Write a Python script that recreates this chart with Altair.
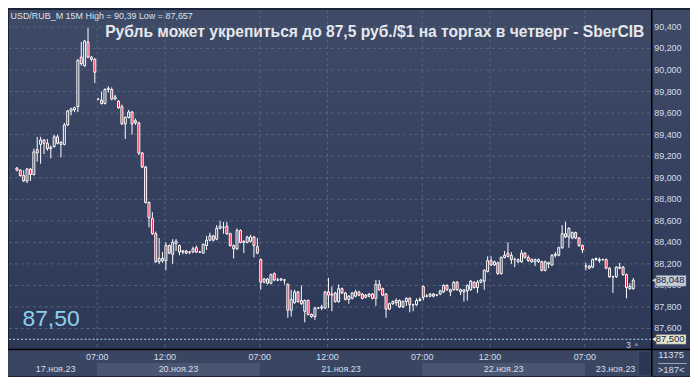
import altair as alt
import pandas as pd

# ---- 15-minute candles (trading sessions only) ----
# Nov 17 (24), Nov 20 (48), Nov 21 (48), Nov 22 (48), Nov 23 (15)
opens = [
    89.09, 89.07, 89.02, 88.97, 89.08, 89.03, 89.26, 89.31, 89.35, 89.32, 89.27, 89.29,
    89.38, 89.31, 89.31, 89.49, 89.62, 89.63, 89.66, 90.12, 90.04, 90.26, 90.12, 90.10,
    # Nov 20
    89.73, 89.72, 89.69, 89.82, 89.82, 89.73, 89.71, 89.66, 89.50, 89.56, 89.61, 89.53,
    89.51, 89.23, 89.10, 88.77, 88.62, 88.48, 88.22, 88.23, 88.23, 88.37, 88.29, 88.39,
    88.37, 88.31, 88.32, 88.31, 88.31, 88.35, 88.31, 88.30, 88.37, 88.42, 88.46, 88.43,
    88.53, 88.54, 88.55, 88.48, 88.37, 88.34, 88.51, 88.41, 88.40, 88.41, 88.45, 88.36,
    # Nov 21
    88.24, 88.03, 88.06, 88.02, 88.11, 88.05, 88.05, 88.05, 88.01, 87.77, 87.84, 87.94,
    87.86, 87.76, 87.86, 87.73, 87.71, 87.79, 87.79, 87.79, 87.94, 87.91, 87.93, 87.85,
    87.97, 87.93, 87.87, 87.88, 87.90, 87.94, 87.92, 87.89, 87.90, 87.92, 87.88, 88.01,
    87.97, 87.92, 87.78, 87.83, 87.84, 87.86, 87.80, 87.85, 87.88, 87.82, 87.82, 87.86,
    # Nov 22
    87.99, 87.90, 87.90, 87.92, 87.91, 87.92, 87.94, 88.00, 87.94, 87.96, 88.03, 87.94,
    87.94, 87.95, 87.96, 88.03, 87.98, 88.03, 88.04, 88.13, 88.23, 88.19, 88.21, 88.11,
    88.26, 88.30, 88.28, 88.24, 88.22, 88.22, 88.30, 88.26, 88.22, 88.22, 88.22, 88.22,
    88.14, 88.20, 88.19, 88.28, 88.28, 88.35, 88.48, 88.45, 88.44, 88.49, 88.44, 88.37,
    # Nov 23
    88.18, 88.18, 88.17, 88.24, 88.23, 88.24, 88.24, 88.16, 88.08, 88.08, 88.16, 88.17,
    88.10, 87.97, 87.97,
]
highs = [
    89.10, 89.08, 89.07, 89.09, 89.09, 89.27, 89.38, 89.38, 89.36, 89.36, 89.30, 89.40,
    89.40, 89.34, 89.51, 89.63, 89.65, 89.66, 90.10, 90.26, 90.28, 90.39, 90.13, 90.11,
    # Nov 20
    89.74, 89.80, 89.83, 89.85, 89.84, 89.77, 89.72, 89.68, 89.57, 89.63, 89.62, 89.55,
    89.52, 89.24, 89.11, 88.78, 88.68, 88.50, 88.44, 88.31, 88.40, 88.38, 88.43, 88.43,
    88.38, 88.33, 88.33, 88.32, 88.36, 88.37, 88.32, 88.39, 88.46, 88.49, 88.47, 88.56,
    88.60, 88.59, 88.59, 88.49, 88.38, 88.53, 88.52, 88.42, 88.46, 88.47, 88.46, 88.44,
    # Nov 21
    88.25, 88.07, 88.07, 88.11, 88.12, 88.07, 88.07, 88.06, 88.02, 87.96, 87.96, 87.95,
    88.00, 87.87, 87.87, 87.74, 87.80, 87.80, 87.82, 87.95, 88.07, 87.99, 87.94, 88.01,
    87.98, 87.94, 87.91, 87.94, 87.96, 87.95, 87.93, 87.92, 87.93, 87.93, 88.05, 88.05,
    87.98, 87.93, 87.84, 87.86, 87.88, 87.87, 87.86, 87.89, 87.89, 87.83, 87.88, 87.89,
    # Nov 22
    88.00, 87.92, 87.93, 87.93, 87.92, 87.96, 88.01, 88.01, 87.97, 88.04, 88.04, 87.97,
    87.96, 88.01, 88.05, 88.04, 88.05, 88.06, 88.15, 88.27, 88.27, 88.23, 88.22, 88.27,
    88.32, 88.40, 88.31, 88.26, 88.25, 88.33, 88.31, 88.28, 88.25, 88.25, 88.25, 88.23,
    88.23, 88.22, 88.29, 88.31, 88.36, 88.56, 88.59, 88.54, 88.50, 88.50, 88.45, 88.38,
    # Nov 23
    88.21, 88.19, 88.25, 88.26, 88.26, 88.25, 88.25, 88.17, 88.09, 88.18, 88.21, 88.18,
    88.11, 88.02, 88.07,
]
lows = [
    89.06, 89.01, 88.96, 88.95, 88.97, 89.02, 89.15, 89.13, 89.22, 89.25, 89.18, 89.28,
    89.31, 89.19, 89.30, 89.48, 89.58, 89.61, 89.61, 90.04, 90.03, 90.11, 90.08, 89.88,
    # Nov 20
    89.72, 89.68, 89.68, 89.79, 89.72, 89.72, 89.64, 89.49, 89.36, 89.55, 89.40, 89.49,
    89.21, 89.09, 88.76, 88.54, 88.47, 88.21, 88.20, 88.21, 88.14, 88.29, 88.20, 88.32,
    88.28, 88.29, 88.29, 88.29, 88.30, 88.30, 88.30, 88.30, 88.33, 88.41, 88.41, 88.42,
    88.52, 88.48, 88.47, 88.36, 88.25, 88.33, 88.39, 88.30, 88.39, 88.40, 88.26, 88.29,
    # Nov 21
    87.96, 88.02, 88.01, 88.01, 88.04, 88.04, 88.04, 88.01, 87.70, 87.71, 87.83, 87.84,
    87.82, 87.657, 87.72, 87.70, 87.68, 87.78, 87.77, 87.78, 87.79, 87.76, 87.84, 87.84,
    87.92, 87.86, 87.83, 87.87, 87.89, 87.90, 87.87, 87.88, 87.89, 87.87, 87.81, 87.95,
    87.90, 87.70, 87.77, 87.82, 87.81, 87.79, 87.79, 87.81, 87.75, 87.76, 87.81, 87.85,
    # Nov 22
    87.86, 87.89, 87.89, 87.89, 87.90, 87.91, 87.93, 87.95, 87.90, 87.95, 87.95, 87.91,
    87.85, 87.86, 87.95, 87.97, 87.93, 88.02, 87.96, 88.12, 88.18, 88.18, 88.10, 88.10,
    88.25, 88.26, 88.20, 88.17, 88.21, 88.21, 88.25, 88.22, 88.21, 88.18, 88.21, 88.13,
    88.13, 88.16, 88.18, 88.26, 88.27, 88.34, 88.44, 88.35, 88.43, 88.43, 88.36, 88.30,
    # Nov 23
    88.14, 88.15, 88.16, 88.23, 88.21, 88.23, 88.15, 88.07, 87.93, 88.07, 88.15, 88.09,
    87.88, 87.96, 87.96,
]
closes = [
    89.07, 89.02, 88.97, 89.08, 89.03, 89.24, 89.23, 89.35, 89.32, 89.27, 89.28, 89.38,
    89.32, 89.33, 89.49, 89.62, 89.64, 89.65, 90.09, 90.06, 90.27, 90.12, 90.10, 89.98,
    # Nov 20
    89.73, 89.69, 89.82, 89.83, 89.73, 89.75, 89.65, 89.50, 89.56, 89.61, 89.50, 89.51,
    89.23, 89.10, 88.77, 88.63, 88.48, 88.22, 88.25, 88.25, 88.37, 88.30, 88.40, 88.41,
    88.31, 88.32, 88.30, 88.31, 88.34, 88.31, 88.31, 88.38, 88.42, 88.46, 88.42, 88.53,
    88.55, 88.54, 88.48, 88.37, 88.34, 88.51, 88.40, 88.40, 88.45, 88.45, 88.37, 88.30,
    # Nov 21
    88.03, 88.06, 88.02, 88.10, 88.05, 88.05, 88.06, 88.05, 87.77, 87.87, 87.94, 87.85,
    87.83, 87.86, 87.73, 87.71, 87.79, 87.79, 87.80, 87.94, 87.91, 87.92, 87.85, 87.97,
    87.93, 87.87, 87.90, 87.93, 87.94, 87.91, 87.88, 87.91, 87.92, 87.88, 88.01, 87.96,
    87.91, 87.78, 87.83, 87.85, 87.86, 87.80, 87.85, 87.88, 87.82, 87.82, 87.86, 87.87,
    # Nov 22
    87.89, 87.90, 87.92, 87.90, 87.91, 87.95, 88.00, 87.96, 87.96, 88.03, 87.96, 87.96,
    87.96, 88.00, 88.04, 87.98, 88.03, 88.05, 88.14, 88.23, 88.19, 88.22, 88.11, 88.26,
    88.28, 88.27, 88.24, 88.24, 88.24, 88.30, 88.26, 88.23, 88.24, 88.24, 88.24, 88.14,
    88.22, 88.21, 88.28, 88.29, 88.35, 88.48, 88.45, 88.53, 88.49, 88.44, 88.37, 88.33,
    # Nov 23
    88.18, 88.16, 88.24, 88.25, 88.24, 88.24, 88.16, 88.08, 88.08, 88.17, 88.17, 88.10,
    87.98, 87.99, 88.048,
]

day_labels = ["17.ноя.23", "20.ноя.23", "21.ноя.23", "22.ноя.23", "23.ноя.23"]
day_first_bar = [0, 24, 72, 120, 168]
shaded_days = [1, 3]
time_tick_bars = [24, 44, 72, 92, 120, 140, 168]
time_tick_labels = ["07:00", "12:00", "07:00", "12:00", "07:00", "12:00", "07:00"]
price_ticks = [87.6, 87.8, 88.0, 88.2, 88.4, 88.6, 88.8, 89.0, 89.2, 89.4, 89.6, 89.8, 90.0, 90.2, 90.4]
last_price = 88.048
target_price = 87.5
title_text = "Рубль может укрепиться до 87,5 руб./$1 на торгах в четверг - SberCIB"
info_text = "USD/RUB_M 15M High = 90,39 Low = 87,657"
target_text = "87,50"
volume_text = "11375"
range_text = ">187<"
bars_text = "3"

# ---- layout ----
W, H = 646, 341
X_MIN, X_MAX = -0.87, 185.84
xs = alt.Scale(domain=[X_MIN, X_MAX], nice=False, zero=False)
ys = alt.Scale(domain=[87.409, 90.557], nice=False, zero=False)
FONT = "Liberation Sans"
LABEL = "#d2deee"

one = pd.DataFrame({"k": [0]})


def px_rect(x0, x1, y0, y1, **kw):
    return alt.Chart(one).mark_rect(**kw).encode(
        x=alt.value(x0), x2=alt.value(x1), y=alt.value(y0), y2=alt.value(y1))


def grad(top, bottom):
    return alt.Gradient(gradient="linear",
                        stops=[alt.GradientStop(color=top, offset=0),
                               alt.GradientStop(color=bottom, offset=1)],
                        x1=0, x2=0, y1=0, y2=1)


def txt(x, y, s, **kw):
    return alt.Chart(pd.DataFrame({"t": [s]})).mark_text(font=FONT, **kw).encode(
        x=alt.value(x), y=alt.value(y), text="t:N")


X = lambda f: alt.X(f, type="quantitative", scale=xs, axis=None)
Y = lambda f: alt.Y(f, type="quantitative", scale=ys, axis=None)

plot_bg = px_rect(0, W, 0, H, fill=grad("#3e4a66", "#2c3856"))
right_bg = px_rect(W + 1, 685, 0, H, fill=grad("#3e4a66", "#2c3856"))
xpanel = px_rect(-1, W, H + 1, 368, fill="#3a4661")
rb_panel = px_rect(W + 1, 685, H + 1, 368, fill="#38445f")

# day bands on the time axis
edges = [b - 0.3 for b in day_first_bar] + [X_MAX]
edges[0] = X_MIN
band_df = pd.DataFrame({"s": [edges[k] for k in shaded_days], "e": [edges[k + 1] for k in shaded_days]})
bands = alt.Chart(band_df).mark_rect(fill="#4a5671").encode(
    x=X("s"), x2="e", y=alt.value(355), y2=alt.value(368))
thumb = px_rect(633, W, H + 2, 368, fill="#2b3752", stroke="#46526c", strokeWidth=1)

hgrid = alt.Chart(pd.DataFrame({"p": price_ticks})).mark_rule(
    color="#56647f", strokeDash=[3, 3], strokeWidth=1).encode(
    y=Y("p"), x=alt.value(0), x2=alt.value(W))
vgrid = alt.Chart(pd.DataFrame({"b": [b - 0.3 for b in time_tick_bars]})).mark_rule(
    color="#56647f", strokeDash=[3, 3], strokeWidth=1).encode(
    x=X("b"), y=alt.value(0), y2=alt.value(H))
target_line = alt.Chart(pd.DataFrame({"p": [target_price]})).mark_rule(
    color="#a6dcea", strokeDash=[2, 2], strokeWidth=1).encode(
    y=Y("p"), x=alt.value(0), x2=alt.value(W))

candles = pd.DataFrame({"i": list(range(len(opens))), "o": opens, "h": highs, "l": lows, "c": closes})
wicks = alt.Chart(candles).mark_rule(color="white", strokeWidth=1).encode(
    x=X("i"), y=Y("l"), y2="h")
bodies = alt.Chart(candles).mark_bar(size=2, stroke="white", strokeWidth=1).encode(
    x=X("i"), y=Y("o"), y2="c",
    fill=alt.condition("datum.c >= datum.o", alt.value("#34405d"), alt.value("#e8183a")))

vline = alt.Chart(one).mark_rule(color="#000000", strokeWidth=1.5).encode(
    x=alt.value(W + 0.5), y=alt.value(0), y2=alt.value(368))
hline = alt.Chart(one).mark_rule(color="#000000", strokeWidth=1.5).encode(
    y=alt.value(H + 0.5), x=alt.value(-1), x2=alt.value(685))
sep = alt.Chart(one).mark_rule(color="#9aa6ba", strokeWidth=1).encode(
    y=alt.value(355.5), x=alt.value(653), x2=alt.value(682))

ytick_df = pd.DataFrame({"p": price_ticks, "t": [f"{p:.3f}".replace(".", ",") for p in price_ticks]})
ylabels = alt.Chart(ytick_df).mark_text(font=FONT, fontSize=9, color=LABEL, align="left", baseline="middle").encode(
    y=Y("p"), x=alt.value(W + 3), text="t:N")

time_df = pd.DataFrame({"b": [b - 0.3 for b in time_tick_bars], "t": time_tick_labels})
tlabels = alt.Chart(time_df).mark_text(font=FONT, fontSize=9, color=LABEL, align="center", baseline="middle").encode(
    x=X("b"), y=alt.value(349), text="t:N")
day_df = pd.DataFrame({"m": [(edges[k] + edges[k + 1]) / 2 for k in range(len(day_labels))], "t": day_labels})
dlabels = alt.Chart(day_df).mark_text(font=FONT, fontSize=9, color=LABEL, align="center", baseline="middle").encode(
    x=X("m"), y=alt.value(361.5), text="t:N")

# price callouts
last_box = alt.Chart(pd.DataFrame({"a": [last_price + 0.045], "b": [last_price - 0.055]})).mark_rect(
    fill="#c7ccd6", stroke="#7d879b", strokeWidth=0.5).encode(
    y=Y("a"), y2="b", x=alt.value(W + 5), x2=alt.value(681))
last_arrow = alt.Chart(pd.DataFrame({"p": [last_price]})).mark_point(
    shape="triangle-left", filled=True, color="#c7ccd6", size=28, opacity=1).encode(
    y=Y("p"), x=alt.value(W + 3))
last_text = alt.Chart(pd.DataFrame({"p": [last_price], "t": [f"{last_price:.3f}".replace(".", ",")]})).mark_text(
    font=FONT, fontSize=9.5, color="#18203a", align="center", baseline="middle").encode(
    y=Y("p"), x=alt.value(W + 19), text="t:N")
tgt_box = alt.Chart(pd.DataFrame({"a": [target_price + 0.043], "b": [target_price - 0.045]})).mark_rect(
    fill="#e6e6d2", stroke="#8a8a78", strokeWidth=0.5).encode(
    y=Y("a"), y2="b", x=alt.value(W + 5), x2=alt.value(681))
tgt_arrow = alt.Chart(pd.DataFrame({"p": [target_price]})).mark_point(
    shape="triangle-left", filled=True, color="#e6e6d2", size=24, opacity=1).encode(
    y=Y("p"), x=alt.value(W + 3))
tgt_text = alt.Chart(pd.DataFrame({"p": [target_price], "t": [f"{target_price:.3f}".replace(".", ",")]})).mark_text(
    font=FONT, fontSize=9.5, color="#18203a", align="center", baseline="middle").encode(
    y=Y("p"), x=alt.value(W + 19), text="t:N")

title = txt(639, 27.5, title_text, fontSize=15.7, fontWeight="bold", color="#e4e7ed", align="right", baseline="alphabetic")
info = txt(1.5, 8.5, info_text, fontSize=9, color="#dbe3ef", align="left", baseline="alphabetic")
big = txt(13.5, 318, target_text, fontSize=23, color="#8ed0ef", align="left", baseline="alphabetic")
bars = txt(623, 337, bars_text, fontSize=9, color="#c8d4e4", align="center", baseline="middle")
bars_tri = alt.Chart(one).mark_point(shape="triangle-up", filled=True, color="#6d7b95", size=20, opacity=1).encode(
    x=alt.value(631), y=alt.value(336))
vol = txt(666, 347, volume_text, fontSize=9.5, color=LABEL, align="center", baseline="middle")
rng = txt(666, 362, range_text, fontSize=9.5, color=LABEL, align="center", baseline="middle")

chart = alt.layer(
    plot_bg, right_bg, xpanel, rb_panel, bands, thumb,
    hgrid, vgrid, target_line,
    wicks, bodies,
    vline, hline, sep,
    ylabels, tlabels, dlabels,
    last_box, last_arrow, last_text, tgt_box, tgt_arrow, tgt_text,
    title, info, big, bars, bars_tri, vol, rng,
).properties(
    width=W, height=H,
    autosize=alt.AutoSizeParams(type="none"),
    padding={"left": 1, "top": 1, "right": 39, "bottom": 27},
    background="#1b2338",
).configure_view(stroke=None)

chart.save("out.html", embed_options={"renderer": "svg", "actions": False})
